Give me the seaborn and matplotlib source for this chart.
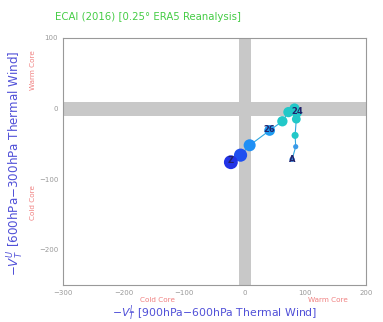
import matplotlib
matplotlib.use("Agg")
import matplotlib.pyplot as plt
import seaborn as sns
import pandas as pd

# data
vtl = [78, 84, 83, 85, 86, 82, 72, 62, 41, 8, -7, -23]
vtu = [-72, -54, -38, -15, -6, 0, -5, -18, -31, -52, -66, -76]
sizes = [14, 14, 26, 40, 50, 55, 55, 55, 60, 75, 90, 100]
colors = ["#3a8fe8", "#3a9ae8", "#22c8c8", "#22c8c8", "#22c8c8", "#22c8c8",
          "#22c8c8", "#22c8c8", "#1f9cf0", "#1f8ff5", "#1e4ff0", "#2233e6"]
pt_labels = {0: "A", 4: "24", 8: "26", 11: "Z"}
x_ticks = [-300, -200, -100, 0, 100, 200]
y_ticks = [-200, -100, 0, 100]

df = pd.DataFrame({"vtl": vtl, "vtu": vtu, "s": sizes, "c": colors})

sns.set_style("white")
fig = plt.figure(figsize=(3.83, 3.22), dpi=100)
ax = fig.add_axes([63/383, 1-285/322, (366-63)/383, (285-38)/322])

ax.axvspan(-10, 10, color="#c8c8c8", lw=0, zorder=0)
ax.axhspan(-10, 10, color="#c8c8c8", lw=0, zorder=0)

sns.lineplot(data=df, x="vtl", y="vtu", sort=False, color="#30a8e0", lw=0.8, ax=ax, zorder=2)
ax.scatter(df["vtl"], df["vtu"], s=df["s"], c=df["c"], edgecolors="none", zorder=3)
for i, t in pt_labels.items():
    ax.text(vtl[i], vtu[i] + (2 if i != 0 else 0), t, color="#22226a", fontsize=6,
            ha="center", va="center", zorder=4, fontweight="bold")

ax.set_xlim(-300, 200)
ax.set_ylim(-250, 100)
ax.set_xticks(x_ticks)
ax.set_yticks(y_ticks)
ax.tick_params(axis="both", labelsize=5, colors="#999999", length=2, width=0.6,
               direction="out", pad=1.5)
ax.tick_params(axis="both", labelcolor="#999999")
for sp in ax.spines.values():
    sp.set_color("#999999")
    sp.set_linewidth(0.8)
ax.set_xlabel("")
ax.set_ylabel("")

fig.text(55/383, 1-17/322, "ECAI (2016) [0.25° ERA5 Reanalysis]", color="#44cc44",
         fontsize=7.3, ha="left", va="center")
fig.text(16/383, 1-163/322, r"$-V_T^U$ [600hPa$-$300hPa Thermal Wind]", color="#5050d8",
         fontsize=8.6, rotation=90, ha="center", va="center")
fig.text(33/383, 1-70/322, "Warm Core", color="#f08080", fontsize=5.2, rotation=90,
         ha="center", va="center")
fig.text(33/383, 1-203/322, "Cold Core", color="#f08080", fontsize=5.2, rotation=90,
         ha="center", va="center")
fig.text(158/383, 1-299.5/322, "Cold Core", color="#f08080", fontsize=5.2, ha="center", va="center")
fig.text(328/383, 1-299.5/322, "Warm Core", color="#f08080", fontsize=5.2, ha="center", va="center")
fig.text(215/383, 1-313/322, r"$-V_T^L$ [900hPa$-$600hPa Thermal Wind]", color="#5050d8",
         fontsize=7.8, ha="center", va="center")

fig.savefig("out.png", dpi=100)
